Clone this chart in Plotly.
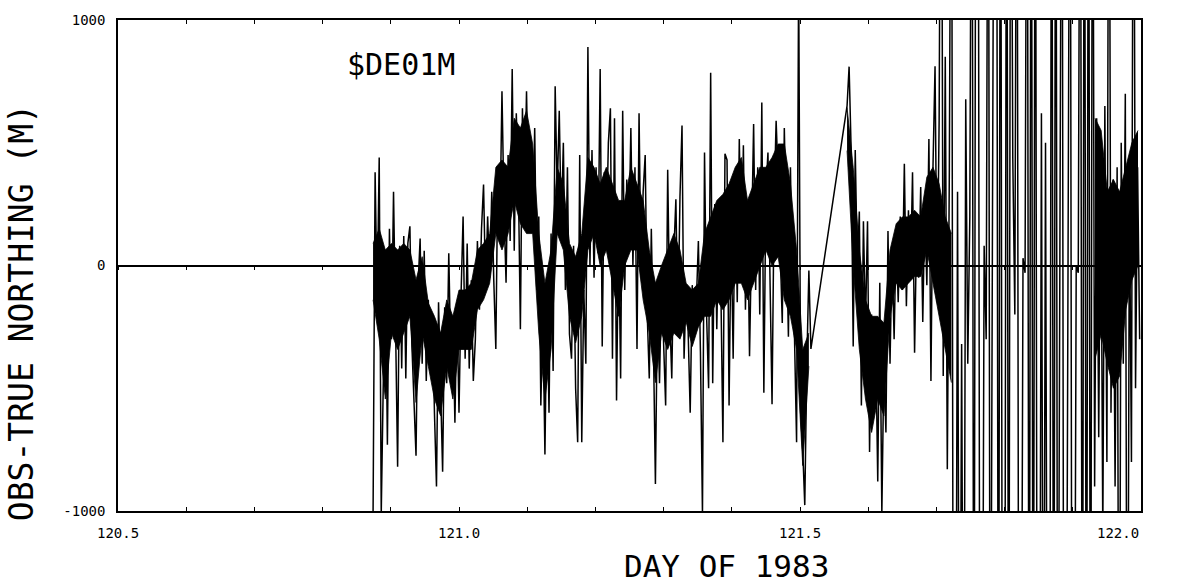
import numpy as np
import plotly.graph_objects as go

# Sampling interval of the tracked fixes (days)
DT = 0.003
# Spacing of the dense-trace envelope (days)
DT_CORE = 0.009

# Northing error (m), first pass: day 120.874 up to the data gap near 121.52
north_a = [
    -1010, 380, -150, 440, -1010,
    -540, 60, -730, 150, -300,
    300, -250, -820, 80, -420,
    120, -460, 90, 160, -330,
    -560, -775, -80, 110, -400,
    60, -470, -140, -430, -200,
    -600, -900, -150, -450, -840,
    -170, -480, 50, -380, -220,
    -640, -150, -600, -120, 200,
    -380, 90, -420, -60, -470,
    -300, 100, -180, 150, 330,
    -100, 200, -50, 300, -60,
    -340, 400, 150, 710, 230,
    -70, 450, 100, 800, 60,
    620, 350, -260, 640, 250,
    710, 250, 480, 130, 560,
    -100, 200, -570, -200, -770,
    -100, -600, 130, -430, 730,
    300, 630, 150, 500, -100,
    400, -280, -380, 80, -500,
    -720, 450, -720, -100, -400,
    890, 0, 470, -50, 400,
    50, 800, -330, 380, 100,
    500, 640, -380, 600, -550,
    150, -460, 630, -100, 350,
    100, 560, 0, 400, -340,
    620, -50, 300, 450, -200,
    -460, 150, -300, -890, -150,
    -480, -60, -280, -570, 390,
    -200, -460, 50, 270, -250,
    280, 570, -380, -100, -270,
    -600, -80, -250, -150, 100,
    -350, -1010, 460, -200, -500,
    785, -480, 250, -260, 200,
    -100, -720, 455, 430, -570,
    150, -380, 350, -150, 515,
    0, 490, -180, 250, -370,
    200, 576, -100, 400, -200,
    664, -518, 300, 460, -50,
    -565, 250, 590, 350, 80,
    -234, 560, 150, -290, 400,
    -150, -300, -720, 1200, -600,
    -750, -976, -400, -20, -340,
]

# Northing error (m), second pass: day 121.569 to the end of the day
north_b = [
    650, 810, 470, -330, 470,
    0, 220, -570, 180, -250,
    180, -760, -200, -600, -300,
    -880, -70, -1010, -400, -680,
    140, -400, 60, -300, 130,
    -150, 200, -100, 414, -166,
    225, -50, 380, -355, 150,
    -50, 320, -230, 250, -80,
    515, -470, 400, 812, -150,
    590, 2500, -450, 850, -830,
    400, 2500, -2500, -2500, 300,
    -2500, -320, -2500, 677, -400,
    200, 2500, -2500, 2500, 2500,
    -2500, -2500, 80, -300, 2500,
    -2500, 60, 2500, 2500, -2500,
    2500, -2500, -2500, 2500, -2500,
    2500, 440, -200, 2500, -2500,
    -2500, 30, -30, 2500, -2500,
    2500, -2500, 2500, -2500, -2500,
    620, -2500, 500, -2500, -2500,
    2500, -2500, 2500, -2500, 30,
    2500, -2500, -2500, 20, 2500,
    -2500, -2500, 0, -30, 2500,
    -2500, 2500, -2500, 2500, -2500,
    2500, -900, 600, -700, 500,
    -1100, 650, -800, 2500, -600,
    350, -900, 400, -2500, 500,
    -400, 700, -2500, 300, -800,
    2500, -500, 400, -300,
]

start_a = 120.874
start_b = 121.569

# Upper / lower edge of the densely overplotted band (m)
core_hi_a = [
    90, 150, 63, 90, 63, 90, 63, -58, 36, -153,
    -207, -275, -140, -207, -100, -100, -72, 63, 90, 130,
    400, 430, 400, 600, 560, 630, 495, 130, -72, 63,
    400, 333, 90, 36, 130, 440, 400, 333, 400, 333,
    265, 265, 400, 333, 265, 63, -72, 0, 63, 130,
    63, -72, -100, -72, 130, 198, 265, 290, 333, 400,
    440, 265, 333, 400, 400, 440, 495, 495, 333, 63,
    -342, -275,
]
core_lo_a = [
    -140, -300, -544, -275, -342, -275, -207, -558, -275, -410,
    -544, -612, -410, -544, -342, -342, -342, -180, -140, -72,
    130, 63, 130, 265, 170, 130, 130, -275, -544, -342,
    130, 63, -207, -315, -207, 63, 130, 0, 63, -72,
    -207, 0, 63, 63, -140, -275, -477, -275, -342, -275,
    -300, -230, -330, -250, -207, -207, -140, -180, -140, -72,
    -72, -140, -72, 0, 63, 0, 36, -140, -207, -342,
    -815, -410,
]
core_hi_b = [644, 400, 63, -140, -207, -207, -234, 63, 170,
             198, 198, 225, 198, 360, 400, 333, 198, 130]
core_lo_b = [468, 0, -342, -544, -680, -544, -612, -207, -72,
             -100, -72, -45, -45, 63, -72, -207, -342, -477]
start_core_c = 121.9326
core_hi_c = [600, 550, 300, 350, 300, 400, 500, 550]
core_lo_c = [-380, -280, -400, -500, -450, -180, -60, 0]

x_range = [120.5, 122.0]
y_range = [-1000, 1000]
x_ticks = [120.5, 120.6, 120.7, 120.8, 120.9, 121.0, 121.1, 121.2,
           121.3, 121.4, 121.5, 121.6, 121.7, 121.8, 121.9, 122.0]
x_label_vals = [120.5, 121.0, 121.5, 122.0]
x_label_text = ["120.5", "121.0", "121.5", "122.0"]
y_label_vals = [-1000, 0, 1000]
y_label_text = ["-1000", "0", "1000"]

MONO = "DejaVu Sans Mono"
INK = "black"

fig = go.Figure()

# dense band where the individual fixes overprint each other
for start, hi, lo in [(start_a, core_hi_a, core_lo_a),
                      (start_b, core_hi_b, core_lo_b),
                      (start_core_c, core_hi_c, core_lo_c)]:
    tc = start + DT_CORE * np.arange(len(hi))
    fig.add_trace(go.Scatter(x=tc, y=hi, mode="lines",
                             line=dict(width=0.8, color=INK),
                             hoverinfo="skip", showlegend=False))
    fig.add_trace(go.Scatter(x=tc, y=lo, mode="lines", fill="tonexty",
                             fillcolor=INK, line=dict(width=0.8, color=INK),
                             hoverinfo="skip", showlegend=False))

t = np.concatenate([start_a + DT * np.arange(len(north_a)),
                    start_b + DT * np.arange(len(north_b))])
v = np.array(north_a + north_b, dtype=float)
fig.add_trace(go.Scatter(
    x=t, y=v, mode="lines",
    line=dict(color=INK, width=1.5),
    hoverinfo="skip", showlegend=False,
))
# empty trace so the zero-line axis gets its own overlay
fig.add_trace(go.Scatter(x=[], y=[], xaxis="x2", showlegend=False))

fig.update_layout(
    width=1178, height=584,
    margin=dict(l=118, r=37, t=17, b=73),
    paper_bgcolor="white", plot_bgcolor="white",
    font=dict(family=MONO, color="black"),
    xaxis=dict(
        range=x_range, tickvals=x_ticks, showticklabels=False,
        ticks="inside", ticklen=4, tickwidth=1.2, tickcolor="black",
        showline=True, linecolor="black", linewidth=1.5, mirror="ticks",
        showgrid=False, zeroline=False,
    ),
    xaxis2=dict(
        range=x_range, overlaying="x", anchor="free", position=0.5,
        tickvals=x_ticks, showticklabels=False,
        ticks="outside", ticklen=4, tickwidth=1.2, tickcolor="black",
        showline=True, linecolor="black", linewidth=1.5,
        showgrid=False, zeroline=False,
    ),
    yaxis=dict(
        range=y_range, tickvals=y_label_vals, ticktext=y_label_text,
        ticks="", ticklabelstandoff=8, tickfont=dict(family=MONO, size=14),
        showline=True, linecolor="black", linewidth=1.5, mirror=True,
        showgrid=False, zeroline=False,
    ),
)

# x tick labels; the last one sits flush with the right edge of the frame
for val, txt in zip(x_label_vals, x_label_text):
    fig.add_annotation(
        x=val, xref="x", y=0, yref="paper", yanchor="top", yshift=-12,
        xanchor="right" if val == x_range[1] else "center",
        text=txt, showarrow=False, font=dict(family=MONO, size=14),
    )

fig.add_annotation(
    x=0.2766, xref="paper", y=0.909, yref="paper",
    xanchor="center", yanchor="middle",
    text="$DE01M", showarrow=False, font=dict(family=MONO, size=30),
)
fig.add_annotation(
    x=-0.0948, xref="paper", y=0.403, yref="paper", textangle=-90,
    xanchor="center", yanchor="middle",
    text="OBS-TRUE NORTHING (M)", showarrow=False,
    font=dict(family=MONO, size=33),
)
fig.add_annotation(
    x=0.595, xref="paper", y=-0.112, yref="paper",
    xanchor="center", yanchor="middle",
    text="DAY OF 1983", showarrow=False, font=dict(family=MONO, size=31),
)

fig.write_html("out.html")
